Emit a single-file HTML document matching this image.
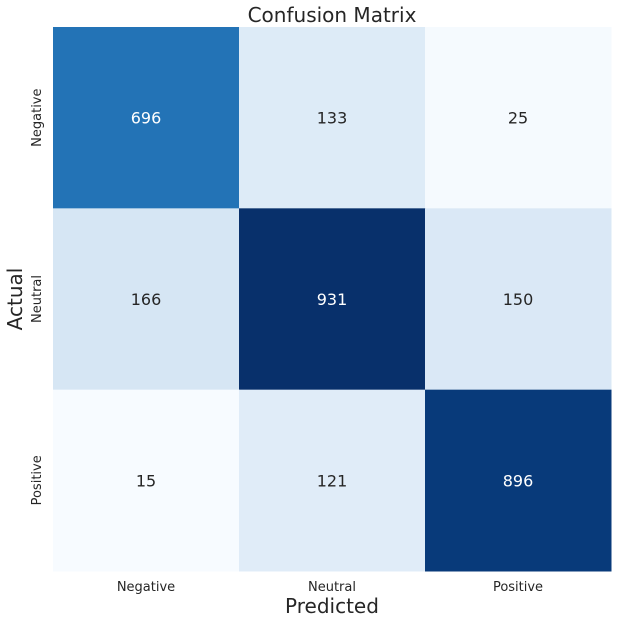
<!DOCTYPE html>
<html><head><meta charset="utf-8"><style>
body{margin:0;background:#fff;font-family:"DejaVu Sans","Liberation Sans",sans-serif}
svg text{font-family:"DejaVu Sans","Liberation Sans",sans-serif}
</style></head><body>
<svg id="c" width="617" height="624" xmlns="http://www.w3.org/2000/svg">
<text x="332" y="22" text-anchor="middle" font-size="20" fill="#262626">Confusion Matrix</text>
<text x="332" y="613" text-anchor="middle" font-size="20" fill="#262626">Predicted</text>
<text transform="translate(22,299) rotate(-90)" text-anchor="middle" font-size="20" fill="#262626">Actual</text>
<g id="cells"></g>
</svg>
<script>
const categories=["Negative","Neutral","Positive"];
const row0=[696,133,25];
const row1=[166,931,150];
const row2=[15,121,896];
const rows=[row0,row1,row2];
const x0=53,x1=611,y0=27,y1=571;
const cw=(x1-x0)/3,ch=(y1-y0)/3;
const xs=i=>x0+i*cw, ys=j=>y0+j*ch;
const stops=["#f7fbff","#deebf7","#c6dbef","#9ecae1","#6baed6","#4292c6","#2171b5","#08519c","#08306b"];
const all=rows.flat(),vmin=Math.min(...all),vmax=Math.max(...all);
function hex(h){return [1,3,5].map(k=>parseInt(h.substr(k,2),16));}
function color(v){let t=(v-vmin)/(vmax-vmin)*8;let i=Math.min(7,Math.floor(t));let f=t-i;
const a=hex(stops[i]),b=hex(stops[i+1]);return "rgb("+a.map((c,k)=>Math.round(c+(b[k]-c)*f)).join(",")+")";}
const svg=document.getElementById('c'),g=document.getElementById('cells'),NS="http://www.w3.org/2000/svg";
rows.forEach((r,j)=>r.forEach((v,i)=>{
const rect=document.createElementNS(NS,'rect');
rect.setAttribute('x',xs(i));rect.setAttribute('y',ys(j));rect.setAttribute('width',cw+0.5);rect.setAttribute('height',ch+0.5);
rect.setAttribute('fill',color(v));


g.appendChild(rect);
const t=document.createElementNS(NS,'text');
t.setAttribute('x',xs(i)+cw/2);t.setAttribute('y',ys(j)+ch/2+6);t.setAttribute('text-anchor','middle');t.setAttribute('font-size','16');
t.setAttribute('fill',(v-vmin)/(vmax-vmin)>0.5?'#fff':'#262626');t.textContent=v;


g.appendChild(t);
}));
categories.forEach((c,i)=>{
const t=document.createElementNS(NS,'text');
t.setAttribute('x',xs(i)+cw/2);t.setAttribute('y',591);t.setAttribute('text-anchor','middle');t.setAttribute('font-size','13');t.setAttribute('fill','#262626');t.textContent=c;


svg.appendChild(t);
const u=document.createElementNS(NS,'text');
const yy=ys(i)+ch/2;
u.setAttribute('transform','translate(41,'+yy+') rotate(-90)');u.setAttribute('text-anchor','middle');u.setAttribute('font-size','13');u.setAttribute('fill','#262626');u.textContent=c;


svg.appendChild(u);
});
</script>
</body></html>
